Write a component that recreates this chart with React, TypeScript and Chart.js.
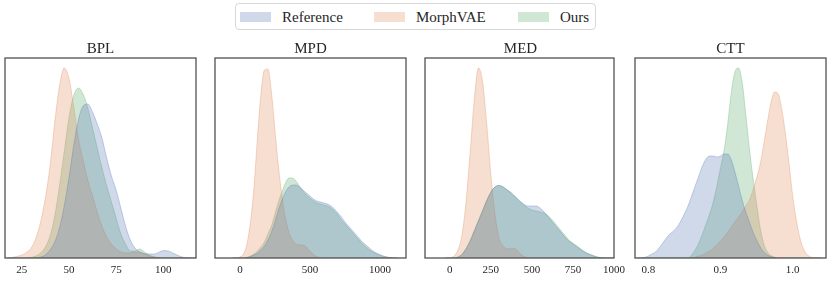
import React, { useEffect, useRef } from "react";
import { Chart, registerables } from "chart.js";

Chart.register(...registerables);

const FONT = "'Liberation Serif', 'DejaVu Serif', serif";
const TEXT_COLOR = "#262626";

const seriesNames = ["Reference", "MorphVAE", "Ours"];
const seriesColors = ["76,114,176", "221,132,82", "85,168,104"];

// ---- BPL ----
const bplX = [17.5, 20, 22.5, 25, 27.5, 30, 32.5, 35, 37.5, 40, 42.5, 45, 47.5, 50, 52.5, 55, 57.5, 60, 62.5, 65, 67.5, 70, 72.5, 75, 77.5, 80, 82.5, 85, 87.5, 90, 92.5, 95, 97.5, 100, 102.5, 105, 107.5, 110, 112.5, 115, 117.5];
const bplReference = [0, 0, 0, 0, 0, 0, 0, 0.5, 1.5, 4, 8, 15, 26, 40, 56, 69, 76, 77, 73, 67, 60, 50, 41, 34, 25, 16, 9, 5, 3, 2.2, 2, 2, 2.8, 3.7, 3.5, 2.5, 1.4, 0.5, 0.1, 0, 0];
const bplMorphVAE = [0, 0.3, 0.8, 1.5, 2.8, 5, 10, 18, 30, 46, 68, 86, 95, 90, 76, 60, 49, 39, 31, 23, 16, 10.5, 7, 4.5, 3, 2.5, 2.6, 3, 3, 2, 1, 0.5, 0.2, 0, 0, 0, 0, 0, 0, 0, 0];
const bplOurs = [0, 0, 0, 0, 0, 0.3, 1, 2.5, 5.5, 11, 21, 36, 53, 70, 81, 85, 82, 75, 65, 55, 45, 36, 28, 20, 12, 7, 3.5, 3.5, 4.5, 3, 1.5, 0.6, 0.2, 0, 0, 0, 0, 0, 0, 0, 0];
const bplTicks = [25, 50, 75, 100];
const bplTickLabels = ["25", "50", "75", "100"];
const bplLimits = [16.15, 117.3];

// ---- MPD ----
const mpdX = [-50, -25, 0, 25, 50, 75, 100, 125, 150, 175, 200, 225, 250, 275, 300, 325, 350, 375, 400, 425, 450, 475, 500, 525, 550, 575, 600, 625, 650, 675, 700, 725, 750, 775, 800, 825, 850, 875, 900, 925, 950, 975, 1000, 1025, 1050, 1075, 1100, 1125];
const mpdReference = [0, 0, 0, 0, 0.2, 0.7, 1.5, 2.5, 4, 6, 9, 13, 18, 24, 29, 33, 35.5, 36.5, 36.5, 35.5, 34, 32.5, 31, 29.5, 28.5, 28, 27.5, 27, 26, 24.5, 22.5, 20.5, 18, 16, 14, 12, 10, 8, 6.5, 5, 3.5, 2.5, 1.7, 1, 0.5, 0.2, 0.05, 0];
const mpdMorphVAE = [0, 0, 0.5, 2, 7, 18, 35, 60, 82, 94, 94.5, 83, 64, 46, 31, 20, 13, 9, 7, 6.5, 6.5, 5.5, 3.5, 1.8, 0.7, 0.2, 0, 0, 0, 0, 0, 0, 0, 0, 0, 0, 0, 0, 0, 0, 0, 0, 0, 0, 0, 0, 0, 0];
const mpdOurs = [0, 0, 0, 0, 0.3, 1, 2, 3.5, 5.5, 8, 12, 16, 22, 28, 33, 37.5, 40, 40, 38.5, 36, 33.5, 31.5, 30, 28.5, 27.5, 27, 26.5, 26, 25, 23.5, 21.5, 19, 17, 15, 13, 11, 9, 7, 5.5, 4, 3, 2, 1.3, 0.8, 0.4, 0.1, 0, 0];
const mpdTicks = [0, 500, 1000];
const mpdTickLabels = ["0", "500", "1000"];
const mpdLimits = [-178, 1186];

// ---- MED ----
const medX = [-25, 0, 25, 50, 75, 100, 125, 150, 175, 200, 225, 250, 275, 300, 325, 350, 375, 400, 425, 450, 475, 500, 525, 550, 575, 600, 625, 650, 675, 700, 725, 750, 775, 800, 825, 850, 875, 900, 925, 950, 975, 1000];
const medReference = [0, 0, 0, 0.4, 1.8, 4.6, 8.5, 13.5, 18.5, 23.5, 28.5, 32.8, 35.5, 36.3, 35.5, 34, 32.5, 30.5, 28.5, 27, 26, 26, 26, 25, 23, 20.5, 18, 15.5, 13, 10.5, 8.5, 7, 5.5, 4, 2.7, 1.8, 1, 0.4, 0.1, 0, 0, 0];
const medMorphVAE = [0, 0, 1, 4, 12, 29, 54, 80, 95, 88, 67, 42, 22, 10, 6, 4.5, 4.8, 4.5, 2.5, 0.8, 0.1, 0, 0, 0, 0, 0, 0, 0, 0, 0, 0, 0, 0, 0, 0, 0, 0, 0, 0, 0, 0, 0];
const medOurs = [0, 0, 0, 0.5, 2, 5, 9, 14, 19, 24, 29, 33, 35.5, 36.3, 35.5, 34, 32.5, 30.5, 28.5, 26.5, 25, 24, 23.5, 23, 22.5, 21, 19, 16.5, 14, 11.5, 9, 7.5, 6, 4.5, 3, 2, 1.2, 0.5, 0.1, 0, 0, 0];
const medTicks = [0, 250, 500, 750, 1000];
const medTickLabels = ["0", "250", "500", "750", "1000"];
const medLimits = [-151, 1000];

// ---- CTT ----
const cttX = [0.785, 0.79, 0.795, 0.8, 0.805, 0.81, 0.815, 0.82, 0.825, 0.83, 0.835, 0.84, 0.845, 0.85, 0.855, 0.86, 0.865, 0.87, 0.875, 0.88, 0.885, 0.89, 0.895, 0.9, 0.905, 0.91, 0.915, 0.92, 0.925, 0.93, 0.935, 0.94, 0.945, 0.95, 0.955, 0.96, 0.965, 0.97, 0.975, 0.98, 0.985, 0.99, 0.995, 1.0, 1.005, 1.01, 1.015, 1.02, 1.025, 1.03, 1.035, 1.04];
const cttReference = [0, 0, 0.3, 1, 2, 3, 5, 7.5, 10, 12, 13.5, 15.5, 18.5, 22, 26, 31, 36, 41, 46, 49.5, 51, 51, 50.5, 51, 52, 52, 49, 43, 36, 29, 23, 18, 13, 9, 5.5, 3, 1.5, 0.6, 0.2, 0, 0, 0, 0, 0, 0, 0, 0, 0, 0, 0, 0, 0];
const cttMorphVAE = [0, 0, 0, 0, 0, 0, 0, 0, 0, 0, 0, 0, 0, 0, 0, 0, 0.5, 1, 1.5, 2.5, 3.5, 5, 6.5, 8.5, 10.5, 13, 15.5, 18, 20.5, 23, 26, 29, 34, 40, 47, 57, 68, 78, 83, 82, 74, 62, 47, 31, 19, 10, 4.5, 1.8, 0.5, 0, 0, 0];
const cttOurs = [0, 0, 0, 0, 0, 0, 0, 0, 0, 0, 0, 0, 0, 0, 0, 1.5, 4, 7.5, 12, 17, 22, 28, 36, 45, 54, 67, 83, 93, 95, 88, 72, 55, 40, 27, 15, 7, 3, 1.2, 0.4, 0, 0, 0, 0, 0, 0, 0, 0, 0, 0, 0, 0, 0];
const cttTicks = [0.8, 0.9, 1.0];
const cttTickLabels = ["0.8", "0.9", "1.0"];
const cttLimits = [0.7816, 1.0461];

const panelTitles = ["BPL", "MPD", "MED", "CTT"];
const panelLefts = [5, 215, 425, 635];
const FRAME_W = 191;
const PAD = 15;

const framePlugin = {
  id: "frameBox",
  afterDraw(chart: any) {
    const { ctx, chartArea } = chart;
    const { left, top, right, bottom } = chartArea;
    ctx.save();
    ctx.strokeStyle = "#4a4a4a";
    ctx.lineWidth = 1.25;
    ctx.strokeRect(left, top, right - left, bottom - top);
    ctx.restore();
  },
};

type PanelProps = {
  title: string;
  xs: number[];
  series: number[][];
  ticks: number[];
  tickLabels: string[];
  limits: number[];
  left: number;
};

function Panel({ title, xs, series, ticks, tickLabels, limits, left }: PanelProps) {
  const ref = useRef<HTMLCanvasElement>(null);
  useEffect(() => {
    const chart = new Chart(ref.current as HTMLCanvasElement, {
      type: "line",
      data: {
        datasets: series.map((ys, i) => ({
          label: seriesNames[i],
          data: xs.map((x, j) => ({ x, y: ys[j] })),
          fill: "origin",
          backgroundColor: `rgba(${seriesColors[i]},0.27)`,
          borderColor: `rgba(${seriesColors[i]},0.3)`,
          borderWidth: 1,
          pointRadius: 0,
          cubicInterpolationMode: "monotone",
        })),
      },
      options: {
        responsive: false,
        animation: false,
        layout: { padding: { left: PAD, right: PAD, top: 0, bottom: 0 } },
        plugins: {
          legend: { display: false },
          tooltip: { enabled: false },
          title: {
            display: true,
            text: title,
            color: TEXT_COLOR,
            font: { size: 15, family: FONT, weight: "normal" },
            padding: { top: 5, bottom: 0 },
          },
        },
        scales: {
          x: {
            type: "linear",
            min: limits[0],
            max: limits[1],
            grid: { display: false, drawTicks: false },
            border: { display: false },
            ticks: {
              color: TEXT_COLOR,
              font: { size: 11, family: FONT },
              padding: 6,
              maxRotation: 0,
              autoSkip: false,
              callback: (_v: any, idx: number) => tickLabels[idx],
            },
            afterBuildTicks: (axis: any) => {
              axis.ticks = ticks.map((v) => ({ value: v }));
            },
            afterFit: (scale: any) => {
              scale.height = 24;
            },
          },
          y: { display: false, min: 0, max: 100 },
        },
      } as any,
      plugins: [framePlugin],
    });
    return () => chart.destroy();
  }, []);
  return (
    <canvas
      ref={ref}
      width={FRAME_W + 2 * PAD}
      height={247}
      style={{ position: "absolute", left: left - PAD, top: 35, width: FRAME_W + 2 * PAD, height: 247 }}
    />
  );
}

const legendPatchLefts = [240, 374, 518];
const legendTextLefts = [282, 416, 560];

export default function App() {
  const panels = [
    { xs: bplX, series: [bplReference, bplMorphVAE, bplOurs], ticks: bplTicks, tickLabels: bplTickLabels, limits: bplLimits },
    { xs: mpdX, series: [mpdReference, mpdMorphVAE, mpdOurs], ticks: mpdTicks, tickLabels: mpdTickLabels, limits: mpdLimits },
    { xs: medX, series: [medReference, medMorphVAE, medOurs], ticks: medTicks, tickLabels: medTickLabels, limits: medLimits },
    { xs: cttX, series: [cttReference, cttMorphVAE, cttOurs], ticks: cttTicks, tickLabels: cttTickLabels, limits: cttLimits },
  ];
  return (
    <div style={{ position: "fixed", left: 0, top: 0, width: 831, height: 282, background: "#fff", overflow: "hidden", fontFamily: FONT }}>
      <div
        style={{
          position: "absolute",
          left: 235,
          top: 3,
          width: 361,
          height: 27,
          border: "1px solid #d8d8d8",
          borderRadius: 4,
          boxSizing: "border-box",
        }}
      />
      {seriesNames.map((name, i) => (
        <React.Fragment key={name}>
          <div
            style={{
              position: "absolute",
              left: legendPatchLefts[i],
              top: 11.5,
              width: 31,
              height: 10,
              background: `rgba(${seriesColors[i]},0.27)`,
            }}
          />
          <div
            style={{
              position: "absolute",
              left: legendTextLefts[i],
              top: 9,
              fontSize: 15,
              lineHeight: "16px",
              color: TEXT_COLOR,
              whiteSpace: "nowrap",
            }}
          >
            {name}
          </div>
        </React.Fragment>
      ))}
      {panels.map((p, i) => (
        <Panel key={panelTitles[i]} title={panelTitles[i]} left={panelLefts[i]} {...p} />
      ))}
    </div>
  );
}
